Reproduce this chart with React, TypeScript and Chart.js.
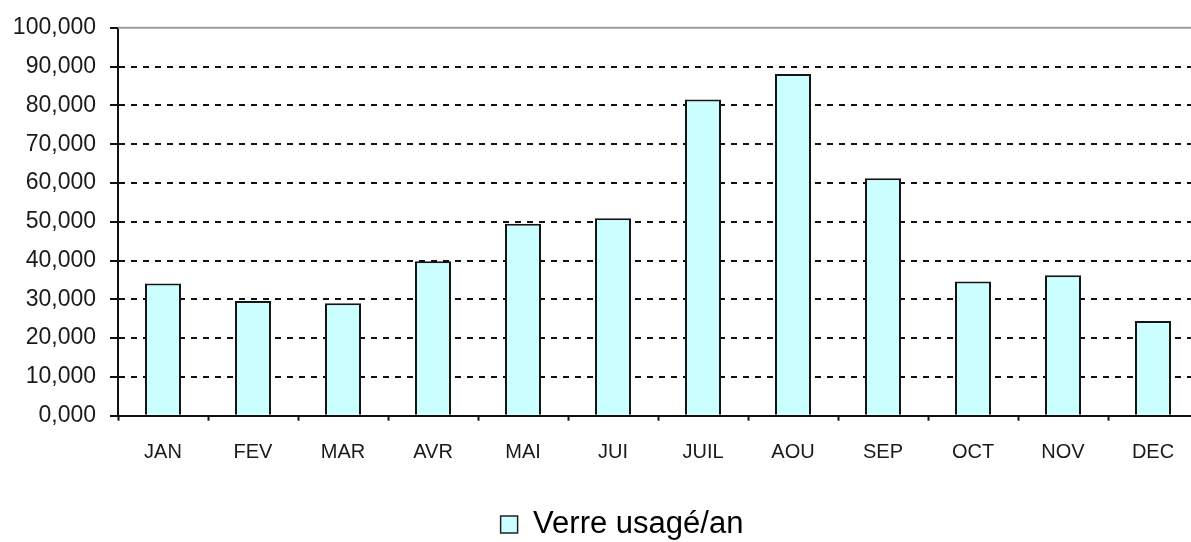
import React, { useEffect, useRef } from 'react';
import { Chart, registerables } from 'chart.js';

Chart.register(...registerables);

const categories = ['JAN', 'FEV', 'MAR', 'AVR', 'MAI', 'JUI', 'JUIL', 'AOU', 'SEP', 'OCT', 'NOV', 'DEC'];
const verreUsage = [34.1, 29.6, 29.0, 39.8, 49.5, 50.9, 81.5, 88.1, 61.2, 34.6, 36.2, 24.4];
const seriesLabel = 'Verre usagé/an';
const yMin = 0;
const yMax = 100;
const yStep = 10;

const FONT = "'Liberation Sans', Arial, sans-serif";

export default function App() {
  const ref = useRef<HTMLCanvasElement>(null);

  useEffect(() => {
    if (!ref.current) return;
    const topLine = {
      id: 'topLine',
      afterDatasetsDraw(chart: any) {
        const { ctx, chartArea } = chart;
        const y = chart.scales.y.getPixelForValue(yMax);
        ctx.save();
        ctx.strokeStyle = '#9a9a9a';
        ctx.lineWidth = 2;
        ctx.beginPath();
        ctx.moveTo(chartArea.left, y);
        ctx.lineTo(chartArea.right, y);
        ctx.stroke();
        ctx.restore();
      },
    };
    const chart = new Chart(ref.current, {
      type: 'bar',
      data: {
        labels: categories,
        datasets: [
          {
            label: seriesLabel,
            data: verreUsage,
            backgroundColor: '#CCFFFF',
            borderColor: '#151515',
            borderWidth: 2,
            barPercentage: 0.4,
            categoryPercentage: 1,
            yAxisID: 'y',
          },
        ],
      },
      options: {
        responsive: false,
        animation: false,
        devicePixelRatio: 1,
        layout: { padding: { left: 0, right: 0, top: 25, bottom: 0 } },
        plugins: {
          tooltip: { enabled: false },
          legend: {
            display: true,
            position: 'bottom',
            labels: {
              boxWidth: 17,
              boxHeight: 17,
              padding: 10,
              color: '#1a1a1a',
              font: { family: FONT, size: 31 },
              generateLabels: () => [
                {
                  text: seriesLabel,
                  fillStyle: '#CCFFFF',
                  strokeStyle: '#222',
                  lineWidth: 1.5,
                  hidden: false,
                  datasetIndex: 0,
                },
              ],
            },
          },
        },
        scales: {
          x: {
            grid: {
              display: true,
              drawOnChartArea: false,
              drawTicks: true,
              tickLength: 5,
              tickColor: '#111',
              tickWidth: 2,
              offset: true,
            },
            border: { display: true, color: '#111', width: 2 },
            ticks: {
              color: '#1a1a1a',
              padding: 20,
              font: { family: FONT, size: 20 },
              maxRotation: 0,
              autoSkip: false,
            },
            afterFit: (scale: any) => {
              scale.height = 83.3;
            },
          },
          y: {
            position: 'left',
            min: yMin,
            max: yMax,
            grid: {
              color: (c: any) => (c.tick && c.tick.value === yMax ? 'rgba(0,0,0,0)' : '#111'),
              lineWidth: 2,
              tickLength: 8,
              tickColor: '#111',
              tickWidth: 2,
              drawTicks: true,
            },
            border: { display: true, color: '#111', width: 2, dash: [6, 6] },
            ticks: {
              stepSize: yStep,
              color: '#1a1a1a',
              padding: 14,
              font: { family: FONT, size: 23 },
              callback: (v: any) => Number(v).toFixed(3).replace('.', ','),
            },
            afterFit: (scale: any) => {
              scale.width = 118;
            },
          },
          yRight: {
            type: 'linear',
            position: 'right',
            display: true,
            grid: { display: false, drawTicks: false },
            border: { display: false },
            ticks: { display: false },
            afterFit: (scale: any) => {
              scale.width = 46;
            },
          },
        },
      },
      plugins: [topLine],
    });
    return () => chart.destroy();
  }, []);

  return (
    <div
      style={{
        position: 'fixed',
        left: 0,
        top: 0,
        width: 1191,
        height: 542,
        overflow: 'hidden',
        background: '#fff',
      }}
    >
      <canvas ref={ref} width={1244} height={550} style={{ display: 'block' }} />
    </div>
  );
}
